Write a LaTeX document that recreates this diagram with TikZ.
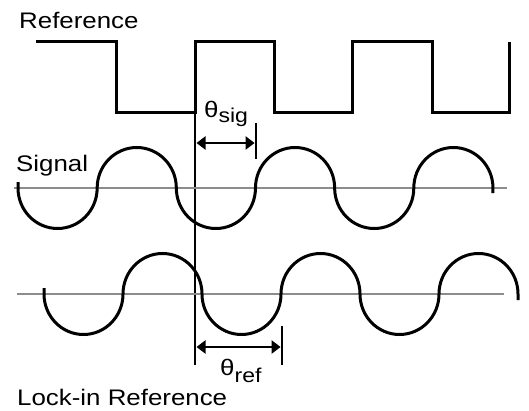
\documentclass[tikz,border=0pt]{standalone}
\usepackage{fontspec}
\setmainfont{Liberation Sans}[FakeStretch=1.15]
\usetikzlibrary{arrows.meta}
\begin{document}
\begin{tikzpicture}[x=1pt,y=1pt,
  wave/.style={line width=3pt,black,line join=miter},
  axisline/.style={line width=2.8pt,color=black!45},
  dim/.style={line width=2.4pt,black,{Triangle[length=9pt,width=13pt]}-{Triangle[length=9pt,width=13pt]}},
  tick/.style={line width=2.8pt,black},
  lbl/.style={inner sep=0pt,anchor=base west,font=\fontsize{22.5}{27}\selectfont},
  sub/.style={font=\fontsize{20}{24}\selectfont}]
\useasboundingbox (0,0) rectangle (529,410);
% reference square wave
\draw[wave] (36,368) -- (116,368) -- (116,297) -- (195,297) -- (195,368) -- (274,368) -- (274,297) -- (352,297) -- (352,368) -- (432,368) -- (432,297) -- (509,297) -- (509,368);
% long vertical marker
\coordinate (vtop) at (195,297);
\coordinate (vbot) at (195,45);
\draw[tick] (vtop) -- (vbot);
% gray axes
\draw[axisline] (14,222) -- (507,222);
\draw[axisline] (17,116) -- (504,116);
% signal wave
\draw[wave] (18,228) -- (18,222)
  arc[start angle=180,end angle=360,x radius=39.58pt,y radius=40.5pt]
  arc[start angle=180,end angle=0,x radius=39.58pt,y radius=40.5pt]
  arc[start angle=180,end angle=360,x radius=39.58pt,y radius=40.5pt]
  arc[start angle=180,end angle=0,x radius=39.58pt,y radius=40.5pt]
  arc[start angle=180,end angle=360,x radius=39.58pt,y radius=40.5pt]
  arc[start angle=180,end angle=0,x radius=39.58pt,y radius=40.5pt]
  -- ++(0,-5);
% lock-in reference wave
\draw[wave] (44,122) -- (44,116)
  arc[start angle=180,end angle=360,x radius=39.5pt,y radius=40.5pt]
  arc[start angle=180,end angle=0,x radius=39.5pt,y radius=40.5pt]
  arc[start angle=180,end angle=360,x radius=39.5pt,y radius=40.5pt]
  arc[start angle=180,end angle=0,x radius=39.5pt,y radius=40.5pt]
  arc[start angle=180,end angle=360,x radius=39.5pt,y radius=40.5pt]
  arc[start angle=180,end angle=0,x radius=39.5pt,y radius=40.5pt]
  -- ++(0,-6);
% theta sig dimension
\coordinate (s1) at (256,287);
\coordinate (s2) at (256,251);
\draw[tick] (s1) -- (s2);
\coordinate (sa) at (196.5,267);
\coordinate (sb) at (254.6,267);
\draw[dim] (sa) -- (sb);
% theta ref dimension
\coordinate (r1) at (282,84);
\coordinate (r2) at (282,45);
\draw[tick] (r1) -- (r2);
\coordinate (ra) at (196.5,63);
\coordinate (rb) at (280.6,63);
\draw[dim] (ra) -- (rb);
% labels
\node[lbl] (ref) at (19,381) {Reference};
\node[lbl] (sig) at (16,238) {Signal};
\node[lbl] (lock) at (17,5) {Lock-in Reference};
\node[lbl] (tsig) at (204,292) {θ\raisebox{-5pt}{\fontsize{20}{24}\selectfont sig}};
\node[lbl] (tref) at (220,35) {θ\raisebox{-7pt}{\fontsize{20}{24}\selectfont ref}};
\end{tikzpicture}
\end{document}
